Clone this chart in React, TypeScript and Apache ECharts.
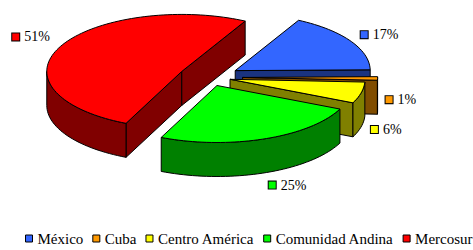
import React, { useEffect, useRef } from 'react';
import * as echarts from 'echarts';

// ---- data ----
const categories = ['México', 'Cuba', 'Centro América', 'Comunidad Andina', 'Mercosur'];
const values = [17, 1, 6, 25, 51];
const topColors = ['#3366FF', '#FF9900', '#FFFF00', '#00FF00', '#FF0000'];

// ---- layout (not data) ----
const CENTER = [209.6, 77.2];
const RX = 135;
const RY = 57;
const DEPTH = 34;
const START_ANGLE = 298; // screen degrees, clockwise from east
const EXPLODE = [30, 33, 21, 21, 31];
const LABEL_GAP = 12;
const LABEL_NUDGE = [
  [0, 0],
  [-4, -13],
  [-2, 0],
  [0, 1],
  [0, -4],
];
const FONT = 'Liberation Serif';

const TOTAL = values.reduce((s, v) => s + v, 0);
const rad = (d: number) => (d * Math.PI) / 180;

function darken(hex: string, f: number): string {
  const n = parseInt(hex.slice(1), 16);
  const r = Math.round(((n >> 16) & 255) * f);
  const g = Math.round(((n >> 8) & 255) * f);
  const b = Math.round((n & 255) * f);
  return '#' + [r, g, b].map((c) => c.toString(16).padStart(2, '0')).join('');
}

type Slice = { a0: number; a1: number; m: number; cx: number; cy: number };

const slices: Slice[] = (() => {
  let cum = 0;
  return values.map((v, i) => {
    const a0 = START_ANGLE + (360 * cum) / TOTAL;
    cum += v;
    const a1 = START_ANGLE + (360 * cum) / TOTAL;
    const m = (a0 + a1) / 2;
    const cx = CENTER[0] + EXPLODE[i] * Math.cos(rad(m));
    const cy = CENTER[1] + EXPLODE[i] * Math.sin(rad(m)) * (RY / RX);
    return { a0, a1, m, cx, cy };
  });
})();

// painter's order: back slices first
const drawOrder = values
  .map((_, i) => i)
  .sort((a, b) => Math.sin(rad(slices[a].m)) - Math.sin(rad(slices[b].m)));

function buildSlice(i: number) {
  const s = slices[i];
  const pt = (t: number, dz = 0): number[] => [
    s.cx + RX * Math.cos(rad(t)),
    s.cy + RY * Math.sin(rad(t)) + dz,
  ];
  const arc = (lo: number, hi: number, dz = 0) => {
    const pts: number[][] = [];
    const n = Math.max(2, Math.ceil((hi - lo) / 2));
    for (let k = 0; k <= n; k++) pts.push(pt(lo + ((hi - lo) * k) / n, dz));
    return pts;
  };
  const side = darken(topColors[i], 0.5);
  const line = { stroke: '#000', lineWidth: 1, lineJoin: 'round' as const };
  const children: any[] = [];
  const apexTop = [s.cx, s.cy];
  const apexBot = [s.cx, s.cy + DEPTH];
  const radial = (t: number) => ({
    type: 'polygon',
    shape: { points: [apexTop, pt(t), pt(t, DEPTH), apexBot] },
    style: { fill: side, ...line },
  });
  if (Math.sin(rad(s.a0 - 90)) > 0) children.push(radial(s.a0));
  if (Math.sin(rad(s.a1 + 90)) > 0) children.push(radial(s.a1));
  for (let k = -1; k <= 2; k++) {
    const lo = Math.max(s.a0, 360 * k);
    const hi = Math.min(s.a1, 360 * k + 180);
    if (hi - lo > 0.01) {
      const top = arc(lo, hi);
      const bot = arc(lo, hi, DEPTH).reverse();
      children.push({
        type: 'polygon',
        shape: { points: [...top, ...bot] },
        style: { fill: side, ...line },
      });
    }
  }
  children.push({
    type: 'polygon',
    shape: { points: [apexTop, ...arc(s.a0, s.a1)] },
    style: { fill: topColors[i], ...line },
  });
  const dx = Math.cos(rad(s.m));
  const dy = Math.sin(rad(s.m));
  const om = pt(s.m);
  const lx = om[0] + LABEL_GAP * dx + LABEL_NUDGE[i][0];
  const ly = om[1] + LABEL_GAP * dy + (dy > 0 ? DEPTH : 0) + LABEL_NUDGE[i][1];
  children.push({
    type: 'text',
    x: lx,
    y: ly,
    z2: 100,
    style: {
      text: `{s|}{t|${values[i]}%}`,
      align: dx >= 0 ? 'left' : 'right',
      verticalAlign: 'middle',
      fontFamily: FONT,
      fontSize: 14,
      rich: {
        s: {
          width: 7,
          height: 7,
          backgroundColor: topColors[i],
          borderColor: '#000',
          borderWidth: 1,
        },
        t: {
          fontSize: 14,
          fontFamily: FONT,
          fill: '#000',
          padding: [0, 0, 0, 5],
        },
      },
    },
  });
  return { type: 'group', children };
}

export default function App() {
  const ref = useRef<HTMLDivElement>(null);
  useEffect(() => {
    if (!ref.current) return;
    const chart = echarts.init(ref.current, undefined, { renderer: 'svg' });
    const series = drawOrder.map((i) => ({
      type: 'custom',
      name: categories[i],
      coordinateSystem: 'none',
      itemStyle: { color: topColors[i] },
      data: [values[i]],
      renderItem: () => buildSlice(i),
    }));
    chart.setOption({
      animation: false,
      backgroundColor: '#fff',
      textStyle: { fontFamily: FONT },
      legend: {
        data: categories,
        bottom: -1,
        left: 25,
        width: 480,
        padding: [5, 0, 5, 0],
        icon: 'rect',
        itemWidth: 7,
        itemHeight: 7,
        itemGap: 9,
        selectedMode: false,
        itemStyle: { borderColor: '#000', borderWidth: 1 },
        textStyle: { fontSize: 15, fontFamily: FONT, color: '#000' },
      },
      series,
    });
    return () => chart.dispose();
  }, []);
  return (
    <div
      ref={ref}
      style={{ position: 'fixed', left: 0, top: 0, width: 473, height: 250 }}
    />
  );
}
